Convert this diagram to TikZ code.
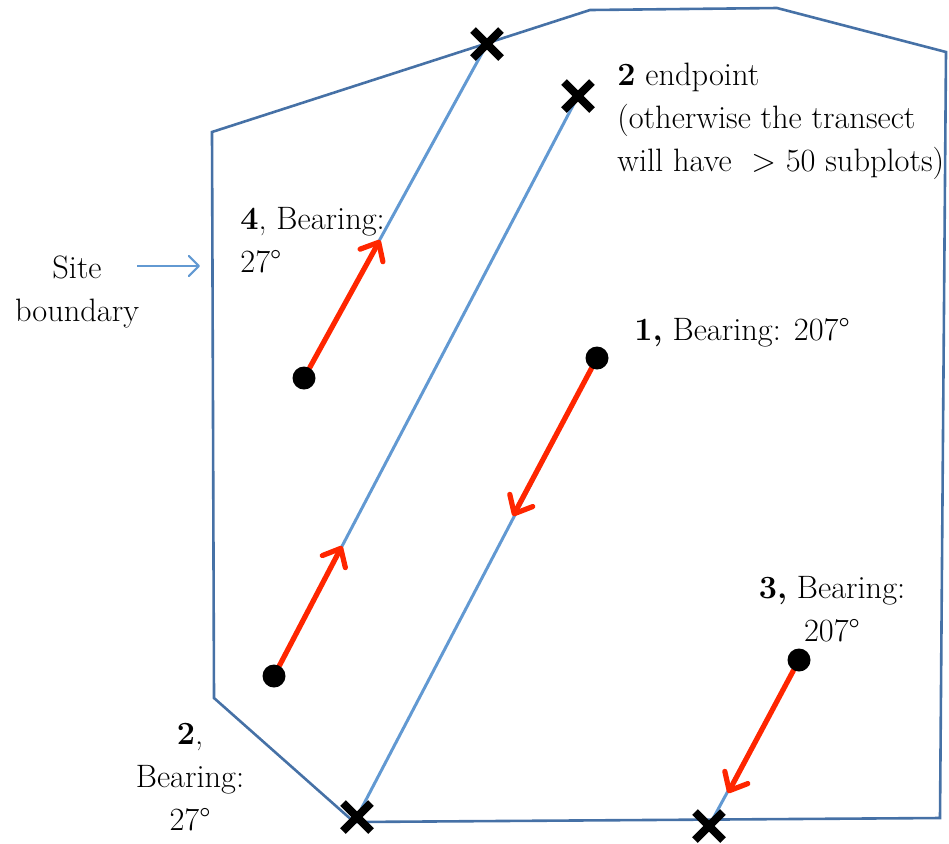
\documentclass[tikz,border=0pt]{standalone}
\usepackage{tikz}
\usetikzlibrary{shapes.misc, arrows.meta, positioning, backgrounds}
\definecolor{siteblue}{RGB}{70,113,166}
\definecolor{lineblue}{RGB}{98,153,210}
\definecolor{bearred}{RGB}{255,38,0}

\tikzset{
  startpt/.style={circle, fill=black, minimum size=11.5pt, inner sep=0pt},
  endpt/.style={cross out, draw=black, line width=4pt, minimum size=10pt, inner sep=0pt},
  transect/.style={lineblue, line width=1.5pt},
  bearing/.style={bearred, line width=2.6pt, line cap=round, -{Straight Barb[length=7.5pt,width=13pt,round]}},
  lbl/.style={inner sep=0pt, font=\fontsize{16.2}{21.5}\selectfont},
}

\begin{document}
\begin{tikzpicture}[x=0.5pt, y=-0.5pt]
\useasboundingbox (0,0) rectangle (949,843);
\draw[siteblue, line width=1.3pt] (212,132) -- (590,10) -- (777,8) -- (946,52) -- (940,818) -- (354,822) -- (214,698) -- cycle;

% start points
\node[startpt] (s1) at (597,358) {};
\node[startpt] (s2) at (274,676) {};
\node[startpt] (s3) at (799,660) {};
\node[startpt] (s4) at (304,378) {};
% end points
\node[endpt] (e1) at (357,817) {};
\node[endpt] (e2) at (578,96) {};
\node[endpt] (e3) at (709,826) {};
\node[endpt] (e4) at (487,44) {};

\coordinate (a1) at (513,516);
\coordinate (a2) at (342,546);
\coordinate (a3) at (728,793);
\coordinate (a4) at (380,240);

\begin{scope}[on background layer]
\draw[transect] (e1.center) -- (s1.center);
\draw[transect] (s2.center) -- (e2.center);
\draw[transect] (s3.center) -- (e3.center);
\draw[transect] (s4.center) -- (e4.center);
\draw[bearing] (s1) -- (a1);
\draw[bearing] (s2) -- (a2);
\draw[bearing] (s3) -- (a3);
\draw[bearing] (s4) -- (a4);
\end{scope}

\node[lbl, anchor=west, align=left] (l4) at (240,240) {\textbf{4}, Bearing:\\27°};
\node[lbl, anchor=west, align=left] (l2e) at (617,121) {\textbf{2} endpoint\\(otherwise the transect\\will have~ > 50 subplots)};
\node[lbl, anchor=west] (l1) at (634,333) {\textbf{1,} Bearing: 207°};
\node[lbl, align=center] (l3) at (832,609) {\textbf{3,} Bearing:\\207°};
\node[lbl, align=center] (l2) at (190,777) {\textbf{2},\\Bearing:\\27°};
\node[lbl, align=center] (site) at (77,292) {Site\\boundary};

\coordinate (sa) at (137,266);
\coordinate (sb) at (200,266);
\draw[lineblue, line width=1.1pt, -{Straight Barb[length=5pt,width=10pt,round]}] (sa) -- (sb);
\end{tikzpicture}
\end{document}
